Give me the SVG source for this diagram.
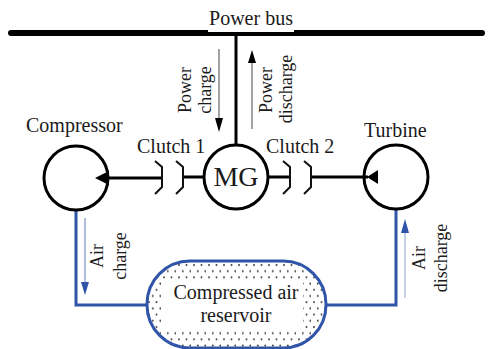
<svg xmlns="http://www.w3.org/2000/svg" width="492" height="349" viewBox="0 0 492 349">
<style>
text{font-family:"Liberation Serif","Times New Roman",serif;font-size:20px;fill:#1a1a1a}
.v{font-size:18px;text-anchor:middle}
.m{text-anchor:middle}
.k{fill:none;stroke:#000;stroke-width:3}
.c{fill:none;stroke:#111;stroke-width:2}
.b{fill:none;stroke:#2f54a8;stroke-width:3}
.t{stroke-width:1.2;fill:none}
</style>
<defs>
<pattern id="dots" width="15" height="12.4" patternUnits="userSpaceOnUse" x="146" y="263">
<rect width="15" height="12.4" fill="#fff"/>
<circle cx="3" cy="2" r="1" fill="#444"/>
<circle cx="10.5" cy="2" r="1" fill="#444"/>
<circle cx="6.8" cy="8.2" r="1" fill="#444"/>
<circle cx="14.3" cy="8.2" r="1" fill="#444"/>
</pattern>
</defs>
<rect width="492" height="349" fill="#fff"/>
<g id="connectors">
<path d="M11 33H482" stroke="#000" stroke-width="6" stroke-linecap="round" fill="none"/>
<rect x="208" y="28" width="86" height="4" fill="#fff"/>
<path class="k" d="M236 36V145"/>
<path class="k" d="M109 178H162M183 177H204M268 177H290M311 177H368"/>
<path d="M95 178L109 171V185Z"/>
<path d="M367 177L378 170V184Z"/>
<path class="b" d="M76 210V305H147M326 305H396V210"/>
<path class="t" stroke="#666" d="M219 49V120"/>
<path d="M219 132L215 118H223Z"/>
<path class="t" stroke="#666" d="M252 129V60"/>
<path d="M252 50L248 63H256Z"/>
<path class="t" stroke="#7a8fc4" d="M85 218V285"/>
<path d="M85 295L81 282H89Z" fill="#2f54a8"/>
<path class="t" stroke="#9db0d8" d="M405 298V230"/>
<path d="M405 219L401 233H409Z" fill="#2f54a8"/>
</g>
<g id="clutch-1">
<path class="c" d="M155 161L162 167V187L155 194M176 161L183 167V187L176 194"/>
<text x="137" y="153">Clutch 1</text>
</g>
<g id="clutch-2">
<path class="c" d="M283 161L290 167V187L283 194M304 161L311 167V187L304 194"/>
<text x="266" y="153">Clutch 2</text>
</g>
<g id="power-bus"><text class="m" x="251" y="25">Power bus</text></g>
<g id="power-charge">
<text class="v" transform="translate(191 90) rotate(-90)">Power</text>
<text class="v" transform="translate(211 90) rotate(-90)">charge</text>
</g>
<g id="power-discharge">
<text class="v" transform="translate(272 90) rotate(-90)">Power</text>
<text class="v" transform="translate(292 89) rotate(-90)">discharge</text>
</g>
<g id="compressor">
<circle class="k" cx="76" cy="178" r="32"/>
<text x="26" y="132">Compressor</text>
</g>
<g id="mg">
<circle class="k" cx="236" cy="177" r="32"/>
<text class="m" x="236" y="186" style="font-size:28px">MG</text>
</g>
<g id="turbine">
<circle class="k" cx="396" cy="177" r="32"/>
<text x="364" y="137">Turbine</text>
</g>
<g id="reservoir">
<rect x="147" y="261" width="179" height="87" rx="43" fill="url(#dots)" stroke="#2f54a8" stroke-width="3"/>
<rect x="161" y="281" width="142" height="48" fill="#fff"/>
<text class="m" x="236" y="299">Compressed air</text>
<text class="m" x="236" y="322">reservoir</text>
</g>
<g id="air-charge">
<text class="v" transform="translate(103 256) rotate(-90)">Air</text>
<text class="v" transform="translate(126 256) rotate(-90)">charge</text>
</g>
<g id="air-discharge">
<text class="v" transform="translate(425 258) rotate(-90)">Air</text>
<text class="v" transform="translate(447 258) rotate(-90)">discharge</text>
</g>
</svg>
